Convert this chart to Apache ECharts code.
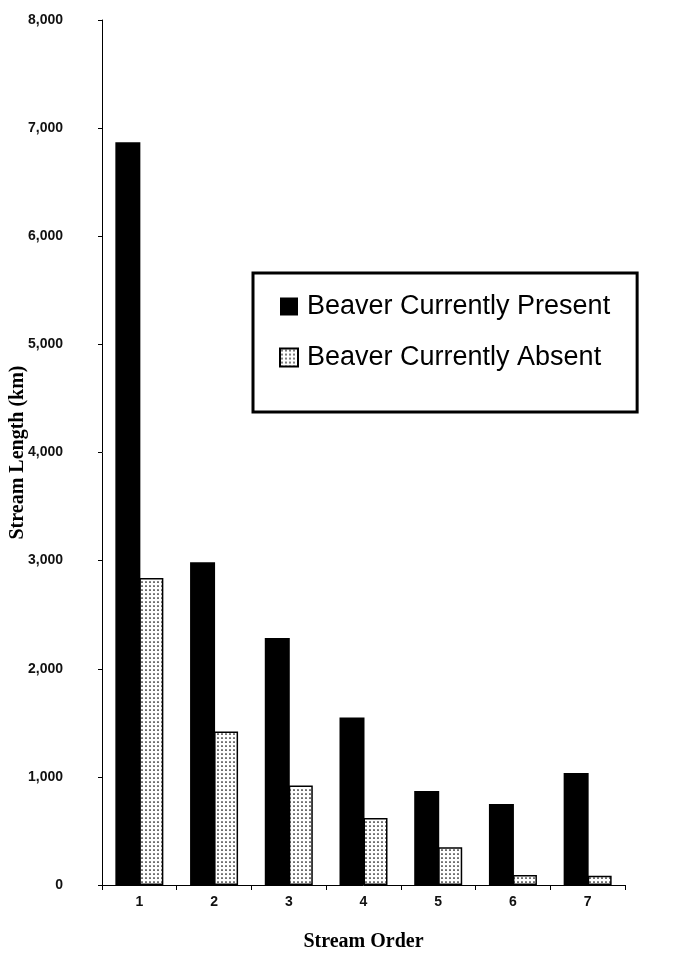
<!DOCTYPE html>
<html>
<head>
<meta charset="utf-8">
<script src="https://cdn.jsdelivr.net/npm/echarts@6/dist/echarts.min.js"></script>
<style>html,body{margin:0;padding:0;background:#fff;}#chart{width:691px;height:958px;}</style>
</head>
<body>
<div id="chart"></div>
<script>
const categories = ['1', '2', '3', '4', '5', '6', '7'];
const presentValues = [6870, 2985, 2285, 1550, 870, 750, 1035];
const absentValues = [2840, 1420, 920, 620, 350, 92, 85];
const seriesNames = ['Beaver Currently Present', 'Beaver Currently Absent'];

function dotPattern() {
  const c = document.createElement('canvas');
  c.width = 4; c.height = 4;
  const ctx = c.getContext('2d');
  ctx.fillStyle = '#fff';
  ctx.fillRect(0, 0, 4, 4);
  ctx.fillStyle = '#000';
  ctx.beginPath();
  ctx.arc(2, 2, 0.85, 0, Math.PI * 2);
  ctx.fill();
  return c;
}

const chart = echarts.init(document.getElementById('chart'), null, {renderer: 'canvas'});
const axisFont = {fontFamily: 'Liberation Sans, Arial, sans-serif', fontSize: 14, fontWeight: 'bold', color: '#111'};
const titleFont = {fontFamily: 'Liberation Serif, Times New Roman, serif', fontSize: 20, fontWeight: 'bold', color: '#000'};

chart.setOption({
  animation: false,
  backgroundColor: '#fff',
  grid: {left: 102, right: 66, top: 20, bottom: 73, containLabel: false, outerBoundsMode: 'none'},
  legend: {
    data: seriesNames,
    orient: 'vertical',
    left: 253,
    top: 273,
    icon: 'rect',
    itemWidth: 18,
    itemHeight: 18,
    itemGap: 24,
    padding: [20, 27, 41, 26],
    borderColor: '#000',
    borderWidth: 3,
    textStyle: {fontFamily: 'Liberation Sans, Arial, sans-serif', fontSize: 27, color: '#000', padding: [0, 0, 0, 4]}
  },
  xAxis: {
    type: 'category',
    data: categories,
    name: 'Stream Order',
    nameLocation: 'middle',
    nameGap: 47,
    nameMoveOverlap: false,
    nameTextStyle: titleFont,
    axisLine: {lineStyle: {color: '#000', width: 1}},
    axisTick: {show: true, length: 5, lineStyle: {color: '#000'}},
    axisLabel: Object.assign({margin: 10}, axisFont)
  },
  yAxis: {
    type: 'value',
    min: 0,
    max: 8000,
    interval: 1000,
    name: 'Stream Length (km)',
    nameLocation: 'middle',
    nameGap: 74,
    nameMoveOverlap: false,
    nameTextStyle: titleFont,
    splitLine: {show: false},
    axisLine: {show: true, lineStyle: {color: '#000', width: 1}},
    axisTick: {show: true, length: 4, lineStyle: {color: '#000'}},
    axisLabel: Object.assign({margin: 39, formatter: v => v.toLocaleString('en-US')}, axisFont)
  },
  series: [
    {
      name: seriesNames[0],
      type: 'bar',
      data: presentValues,
      barWidth: 25,
      barGap: '-4%',
      itemStyle: {color: '#000'}
    },
    {
      name: seriesNames[1],
      type: 'bar',
      data: absentValues,
      barWidth: 24,
      itemStyle: {color: {image: dotPattern(), repeat: 'repeat'}, borderColor: '#000', borderWidth: 1.5}
    }
  ]
});
</script>
</body>
</html>
